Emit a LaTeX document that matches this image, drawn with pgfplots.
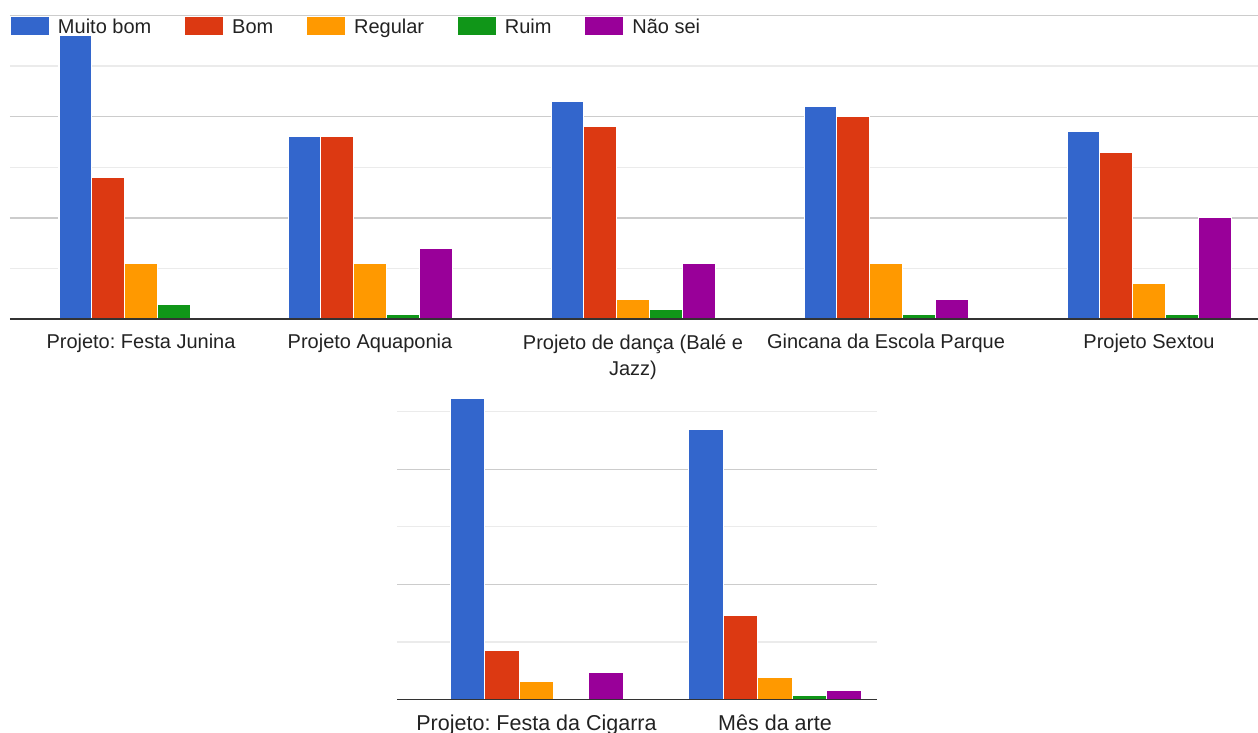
\documentclass[border=0pt]{standalone}
\usepackage{fontspec}
\setmainfont{Liberation Sans}
\usepackage{pgfplots}
\usepackage{pgfplotstable}
\pgfplotsset{compat=1.18}
\frenchspacing

\definecolor{cMuito}{HTML}{3366CC}
\definecolor{cBom}{HTML}{DC3912}
\definecolor{cRegular}{HTML}{FF9900}
\definecolor{cRuim}{HTML}{109618}
\definecolor{cNaosei}{HTML}{990099}
\definecolor{gridmajor}{HTML}{CCCCCC}
\definecolor{gridminor}{HTML}{EBEBEB}
\definecolor{baseline}{HTML}{333333}
\definecolor{labeltext}{HTML}{222222}

\tikzset{linhabase/.style={draw=baseline, line width=1.8pt}}

% group position along the axis (pt), then number of answers per rating
\pgfplotstableread{
pos   muito bom regular ruim naosei
141   56    28  11      3    0
370   36    36  11      1    14
633   43    38  4       2    11
886   42    40  11      1    4
1149  37    33  7       1    20
}\projetosA

\pgfplotstableread{
pos   muito bom regular ruim naosei
536.5 68    11  4       0    6
775   61    19  5       1    2
}\projetosB

\pgfplotsset{
  painel/.style={
    scale only axis,
    axis x line*=bottom,
    axis y line*=left,
    axis line style={draw=none},
    major tick length=0pt, minor tick length=0pt,
    yticklabels={},
    ymajorgrids, yminorgrids,
    major grid style={draw=gridmajor, line width=1.2pt},
    minor grid style={draw=gridminor, line width=1.2pt},
    ymin=0,
    xticklabel style={font=\fontsize{20}{26}\selectfont, text=labeltext,
      align=center, anchor=north, inner sep=0pt, yshift=-15pt},
  },
  barra/.style n args={3}{ybar, bar width=#1, bar shift=#2, fill=#3,
    draw=white, line width=1pt},
}

\begin{document}
\begin{tikzpicture}

% ---- upper panel: five projects ----
\begin{axis}[painel,
  at={(10pt,-319.3pt)}, anchor=south west,
  width=1248pt, height=304pt,
  xmin=10, xmax=1258, ymax=60,
  ytick={0,20,40,60}, minor ytick={10,30,50},
  xtick={141,370,633,886,1149},
  xticklabels={Projeto: Festa Junina, Projeto Aquaponia,
    {Projeto de dança (Balé e\\Jazz)}, Gincana da Escola Parque, Projeto Sextou},
  legend columns=5,
  legend cell align=left,
  legend image code/.code={\fill[#1] (0pt,-9.5pt) rectangle (39pt,9.5pt);},
  legend style={draw=none, fill=none, at={(0,1)}, anchor=north west,
    yshift=-0.7pt, inner sep=0pt, outer sep=0pt,
    font=\fontsize{20}{24}\selectfont, text=labeltext,
    nodes={inner sep=0pt, text height=14.3pt, text depth=0pt},
    /tikz/every odd column/.append style={column sep=8pt},
    /tikz/every even column/.append style={column sep=32.8pt}},
]
\addplot[barra={32.8pt}{-65.6pt}{cMuito}]   table[x=pos, y=muito]   {\projetosA};
\addplot[barra={32.8pt}{-32.8pt}{cBom}]     table[x=pos, y=bom]     {\projetosA};
\addplot[barra={32.8pt}{0pt}{cRegular}]     table[x=pos, y=regular] {\projetosA};
\addplot[barra={32.8pt}{32.8pt}{cRuim}]     table[x=pos, y=ruim]    {\projetosA};
\addplot[barra={32.8pt}{65.6pt}{cNaosei}]   table[x=pos, y=naosei]  {\projetosA};
\legend{Muito bom, Bom, Regular, Ruim, Não sei}
% baseline drawn over the bars
\draw[linhabase] (rel axis cs:0,0) -- (rel axis cs:1,0);
\end{axis}

% ---- lower panel: two projects ----
\begin{axis}[painel,
  at={(397pt,-699.5pt)}, anchor=south west,
  width=480pt, height=303.5pt,
  xmin=397, xmax=877, ymax=68.5,
  ytick={0,26,52}, minor ytick={13,39,65},
  xtick={536.5,775},
  xticklabels={Projeto: Festa da Cigarra, Mês da arte},
  xticklabel style={font=\fontsize{21.5}{26}\selectfont},
]
\addplot[barra={34.6pt}{-69.2pt}{cMuito}]   table[x=pos, y=muito]   {\projetosB};
\addplot[barra={34.6pt}{-34.6pt}{cBom}]     table[x=pos, y=bom]     {\projetosB};
\addplot[barra={34.6pt}{0pt}{cRegular}]     table[x=pos, y=regular] {\projetosB};
\addplot[barra={34.6pt}{34.6pt}{cRuim}]     table[x=pos, y=ruim]    {\projetosB};
\addplot[barra={34.6pt}{69.2pt}{cNaosei}]   table[x=pos, y=naosei]  {\projetosB};
\draw[linhabase] (rel axis cs:0,0) -- (rel axis cs:1,0);
\end{axis}

\pgfresetboundingbox
\path[use as bounding box] (0pt,0pt) rectangle (1258pt,-733pt);
\end{tikzpicture}
\end{document}
